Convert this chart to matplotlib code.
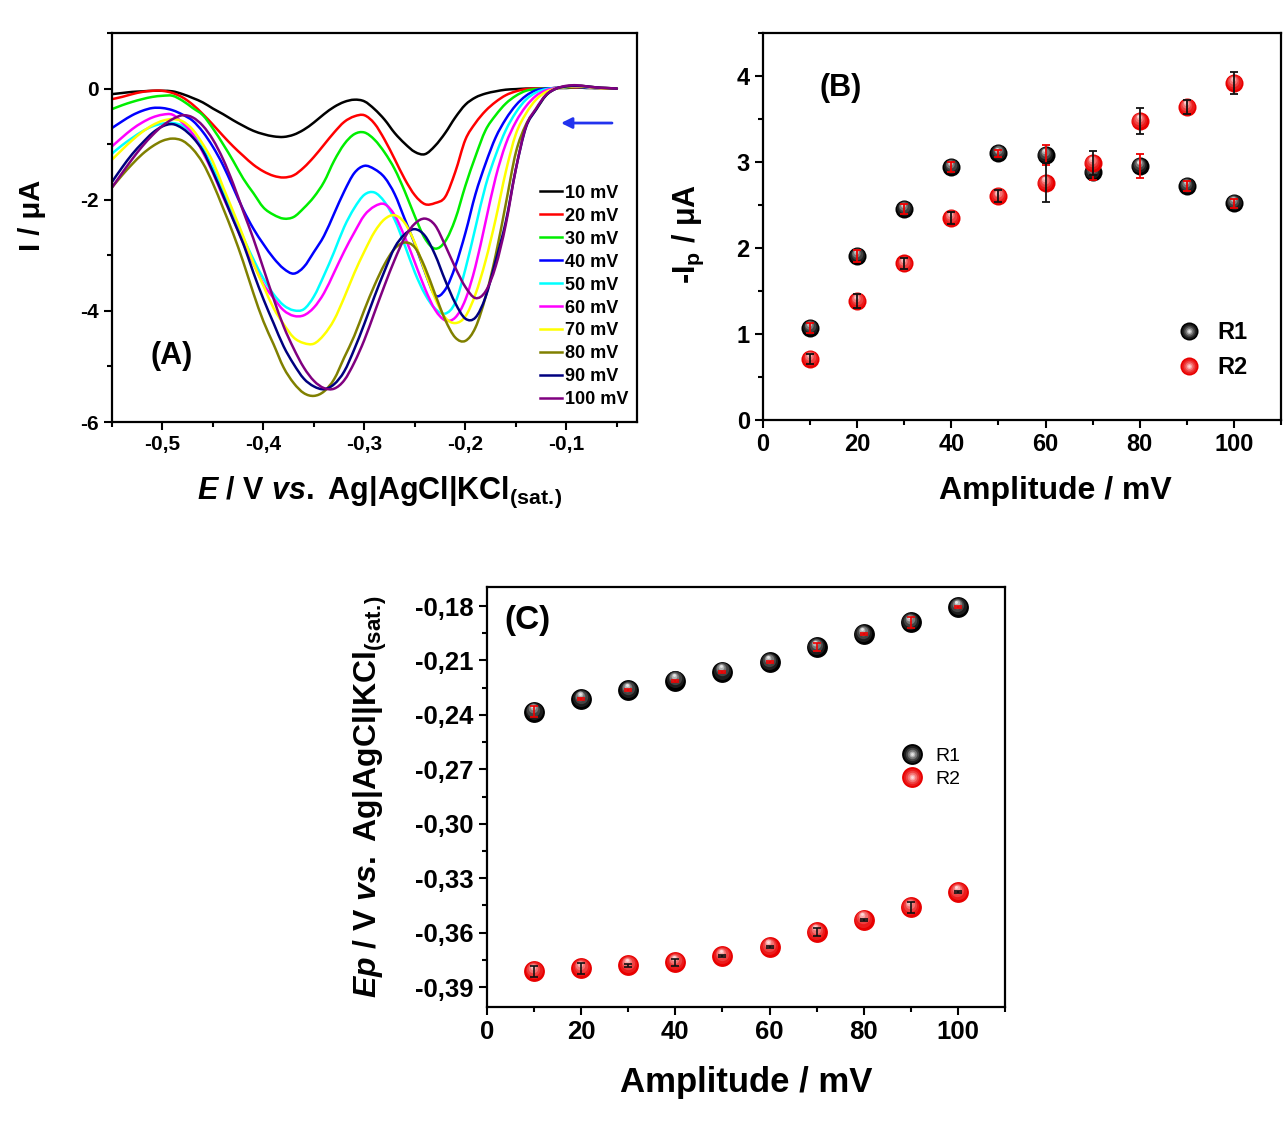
import numpy as np
import matplotlib
matplotlib.use('Agg')
import matplotlib.pyplot as plt
from matplotlib.ticker import MultipleLocator, FuncFormatter
from matplotlib.transforms import offset_copy
from matplotlib.legend_handler import HandlerTuple
from matplotlib.lines import Line2D
from matplotlib.path import Path
from matplotlib.patches import PathPatch

plt.rcParams['font.family'] = ['Liberation Sans', 'DejaVu Sans']
plt.rcParams['font.weight'] = 'bold'
plt.rcParams['axes.labelweight'] = 'bold'
plt.rcParams['mathtext.fontset'] = 'custom'
plt.rcParams['mathtext.rm'] = 'Liberation Sans:bold'
plt.rcParams['mathtext.it'] = 'Liberation Sans:italic:bold'
plt.rcParams['mathtext.bf'] = 'Liberation Sans:bold'

# ---------------- datos panel A (voltametrias) ----------------
E = [-0.55, -0.54, -0.53, -0.52, -0.51, -0.50, -0.49, -0.48, -0.47, -0.46,
     -0.45, -0.44, -0.43, -0.42, -0.41, -0.40, -0.39, -0.38, -0.37, -0.36,
     -0.35, -0.34, -0.33, -0.32, -0.31, -0.30, -0.29, -0.28, -0.27, -0.26,
     -0.25, -0.24, -0.23, -0.22, -0.21, -0.20, -0.19, -0.18, -0.17, -0.16,
     -0.15, -0.14, -0.13, -0.12, -0.11, -0.10, -0.09, -0.08, -0.07, -0.06, -0.05]

i_10 = [-0.10, -0.08, -0.06, -0.05, -0.04, -0.04, -0.05, -0.10, -0.17, -0.25,
        -0.36, -0.46, -0.57, -0.67, -0.76, -0.82, -0.86, -0.87, -0.83, -0.74,
        -0.61, -0.46, -0.33, -0.24, -0.20, -0.23, -0.37, -0.56, -0.80, -0.99,
        -1.14, -1.18, -1.03, -0.80, -0.52, -0.29, -0.16, -0.09, -0.05, -0.02,
        -0.01, 0.00, 0.00, 0.00, 0.01, 0.01, 0.02, 0.01, 0.01, 0.00, 0.00]
i_20 = [-0.19, -0.15, -0.10, -0.06, -0.04, -0.04, -0.08, -0.16, -0.29, -0.46,
        -0.65, -0.85, -1.04, -1.21, -1.37, -1.49, -1.57, -1.60, -1.56, -1.42,
        -1.23, -1.01, -0.79, -0.60, -0.50, -0.48, -0.63, -0.92, -1.27, -1.63,
        -1.92, -2.08, -2.06, -1.95, -1.50, -0.92, -0.62, -0.40, -0.24, -0.12,
        -0.05, -0.01, 0.00, 0.00, 0.01, 0.02, 0.02, 0.02, 0.01, 0.00, 0.00]
i_30 = [-0.37, -0.30, -0.24, -0.19, -0.15, -0.13, -0.13, -0.22, -0.35, -0.48,
        -0.72, -1.00, -1.30, -1.62, -1.88, -2.14, -2.27, -2.34, -2.31, -2.15,
        -1.95, -1.68, -1.30, -1.00, -0.82, -0.79, -0.92, -1.15, -1.45, -1.85,
        -2.30, -2.70, -2.88, -2.75, -2.35, -1.75, -1.22, -0.75, -0.48, -0.27,
        -0.13, -0.04, -0.01, 0.00, 0.01, 0.02, 0.03, 0.02, 0.01, 0.00, 0.00]
i_40 = [-0.71, -0.59, -0.48, -0.40, -0.35, -0.35, -0.39, -0.47, -0.58, -0.78,
        -1.05, -1.38, -1.78, -2.18, -2.52, -2.80, -3.05, -3.24, -3.33, -3.21,
        -2.94, -2.65, -2.25, -1.85, -1.52, -1.39, -1.45, -1.60, -1.90, -2.35,
        -2.80, -3.30, -3.72, -3.62, -3.20, -2.60, -1.90, -1.35, -0.88, -0.55,
        -0.30, -0.13, -0.03, 0.00, 0.01, 0.03, 0.03, 0.02, 0.01, 0.00, 0.00]
i_50 = [-1.17, -1.02, -0.89, -0.77, -0.68, -0.63, -0.62, -0.67, -0.82, -1.08,
        -1.43, -1.84, -2.25, -2.68, -3.07, -3.42, -3.70, -3.90, -3.99, -3.97,
        -3.74, -3.36, -2.94, -2.49, -2.15, -1.91, -1.87, -2.04, -2.36, -2.82,
        -3.31, -3.70, -3.96, -4.05, -3.85, -3.25, -2.50, -1.75, -1.20, -0.75,
        -0.43, -0.20, -0.07, -0.01, 0.01, 0.03, 0.04, 0.03, 0.01, 0.00, 0.00]
i_60 = [-1.04, -0.88, -0.73, -0.61, -0.52, -0.47, -0.47, -0.62, -0.82, -1.15,
        -1.52, -1.95, -2.35, -2.79, -3.15, -3.52, -3.77, -3.99, -4.09, -4.08,
        -3.94, -3.68, -3.31, -2.93, -2.59, -2.28, -2.12, -2.08, -2.28, -2.67,
        -3.13, -3.60, -3.98, -4.17, -4.12, -3.80, -3.20, -2.40, -1.60, -1.00,
        -0.60, -0.32, -0.13, -0.03, 0.01, 0.03, 0.04, 0.03, 0.01, 0.00, 0.00]
i_70 = [-1.28, -1.10, -0.93, -0.78, -0.66, -0.58, -0.55, -0.59, -0.74, -1.00,
        -1.32, -1.77, -2.21, -2.66, -3.14, -3.55, -3.95, -4.24, -4.48, -4.58,
        -4.59, -4.43, -4.16, -3.76, -3.32, -2.93, -2.58, -2.35, -2.28, -2.42,
        -2.78, -3.29, -3.77, -4.12, -4.22, -4.10, -3.70, -3.10, -2.35, -1.50,
        -0.82, -0.45, -0.20, -0.06, 0.00, 0.03, 0.04, 0.03, 0.01, 0.00, 0.00]
i_80 = [-1.78, -1.56, -1.36, -1.18, -1.04, -0.94, -0.90, -0.94, -1.09, -1.34,
        -1.71, -2.15, -2.61, -3.12, -3.68, -4.19, -4.60, -5.02, -5.30, -5.48,
        -5.53, -5.45, -5.23, -4.84, -4.45, -3.98, -3.54, -3.16, -2.88, -2.77,
        -2.86, -3.22, -3.70, -4.16, -4.48, -4.54, -4.30, -3.75, -3.00, -2.08,
        -1.15, -0.65, -0.38, -0.12, 0.00, 0.04, 0.05, 0.04, 0.02, 0.01, 0.00]
i_90 = [-1.68, -1.42, -1.18, -0.98, -0.80, -0.68, -0.64, -0.72, -0.88, -1.12,
        -1.50, -1.92, -2.36, -2.79, -3.31, -3.79, -4.22, -4.64, -4.96, -5.22,
        -5.36, -5.41, -5.32, -5.09, -4.69, -4.23, -3.74, -3.28, -2.86, -2.62,
        -2.53, -2.65, -2.99, -3.45, -3.86, -4.14, -4.12, -3.75, -3.10, -2.40,
        -1.45, -0.70, -0.38, -0.12, 0.00, 0.04, 0.05, 0.04, 0.02, 0.01, 0.00]
i_100 = [-1.78, -1.52, -1.27, -1.04, -0.84, -0.67, -0.55, -0.48, -0.52, -0.67,
         -0.92, -1.27, -1.71, -2.21, -2.70, -3.24, -3.78, -4.28, -4.68, -5.02,
         -5.26, -5.39, -5.40, -5.25, -4.93, -4.52, -4.03, -3.54, -3.08, -2.68,
         -2.43, -2.34, -2.46, -2.82, -3.22, -3.57, -3.77, -3.65, -3.20, -2.45,
         -1.45, -0.68, -0.36, -0.11, 0.00, 0.05, 0.06, 0.04, 0.02, 0.01, 0.00]

curvas = [i_10, i_20, i_30, i_40, i_50, i_60, i_70, i_80, i_90, i_100]
etiquetas = ['10 mV', '20 mV', '30 mV', '40 mV', '50 mV',
             '60 mV', '70 mV', '80 mV', '90 mV', '100 mV']
colores = ['#000000', '#ff0000', '#00ee00', '#0000ff', '#00ffff',
           '#ff00ff', '#ffff00', '#808000', '#000080', '#800080']

# ---------------- datos panel B y C ----------------
amplitud = [10, 20, 30, 40, 50, 60, 70, 80, 90, 100]

ip_R1 = [1.07, 1.91, 2.45, 2.94, 3.10, 3.08, 2.88, 2.95, 2.72, 2.52]
ip_R1_err = [0.06, 0.07, 0.06, 0.06, 0.04, 0.12, 0.09, 0.14, 0.06, 0.05]
ip_R2 = [0.71, 1.38, 1.82, 2.35, 2.60, 2.76, 2.99, 3.48, 3.64, 3.92]
ip_R2_err = [0.06, 0.08, 0.06, 0.07, 0.07, 0.23, 0.14, 0.15, 0.08, 0.13]

ep_R1 = [-0.2383, -0.2312, -0.2263, -0.2211, -0.2162, -0.2109, -0.2026, -0.1956, -0.1890, -0.1807]
ep_R1_err = [0.003, 0.0005, 0.0005, 0.0005, 0.0005, 0.0005, 0.002, 0.0005, 0.003, 0.0005]
ep_R2 = [-0.3812, -0.3796, -0.3780, -0.3763, -0.3730, -0.3679, -0.3596, -0.3529, -0.3461, -0.3377]
ep_R2_err = [0.003, 0.003, 0.0008, 0.002, 0.0005, 0.0005, 0.002, 0.0005, 0.003, 0.0005]

W, H = 1283, 1131
fig = plt.figure(figsize=(W / 100, H / 100), dpi=100)

# capas del efecto "esfera": (fraccion de tamano, mezcla hacia el brillo)
CAPAS = [(1.0, 0.0), (0.82, 0.12), (0.64, 0.28), (0.46, 0.5), (0.28, 0.75), (0.14, 0.95)]


def estilo_ejes(ax, size):
    for s in ax.spines.values():
        s.set_linewidth(1.6)
    ax.tick_params(which='both', direction='out', width=1.5, labelsize=size,
                   top=False, right=False)
    ax.tick_params(which='major', length=6)
    ax.tick_params(which='minor', length=3.5)


def mezcla(c1, c2, f):
    a = np.array(matplotlib.colors.to_rgb(c1))
    b = np.array(matplotlib.colors.to_rgb(c2))
    return tuple(a + (b - a) * f)


def esfera(ax, x, y, base, brillo, ms, z):
    for frac, f in CAPAS:
        dy = (1 - frac) * ms * 0.3
        t = offset_copy(ax.transData, fig=fig, x=-dy * 0.3, y=dy, units='points')
        ax.plot(x, y, 'o', ms=ms * frac, color=mezcla(base, brillo, f), mec='none',
                transform=t, zorder=z)


def leyenda_esfera(base, brillo, ms):
    return tuple(Line2D([], [], ls='none', marker='o', ms=ms * frac,
                        color=mezcla(base, brillo, f), mec='none')
                 for frac, f in CAPAS)


def curva_suave(ax, x, y, color, lw):
    # trazo suave (Bezier) que pasa por los puntos leidos
    n = len(x)
    verts = [(x[0], y[0])]
    codes = [Path.MOVETO]
    for k in range(n - 1):
        x0, y0 = (x[k - 1], y[k - 1]) if k > 0 else (x[k], y[k])
        x3, y3 = (x[k + 2], y[k + 2]) if k + 2 < n else (x[k + 1], y[k + 1])
        verts.append((x[k] + (x[k + 1] - x0) / 6, y[k] + (y[k + 1] - y0) / 6))
        verts.append((x[k + 1] - (x3 - x[k]) / 6, y[k + 1] - (y3 - y[k]) / 6))
        verts.append((x[k + 1], y[k + 1]))
        codes += [Path.CURVE4] * 3
    ax.add_patch(PathPatch(Path(verts, codes), fill=False, edgecolor=color,
                           lw=lw, joinstyle='round', capstyle='round'))


coma1 = FuncFormatter(lambda v, p: f'{v:.1f}'.replace('.', ','))
coma2 = FuncFormatter(lambda v, p: f'{v:.2f}'.replace('.', ','))
entero = FuncFormatter(lambda v, p: f'{v:.0f}')

etiqueta_ref = r'Ag|AgCl|KCl$_{\mathrm{(sat.\!)}}$'

# ================= Panel A =================
axA = fig.add_axes([112 / W, 1 - 422 / H, (637 - 112) / W, (422 - 33) / H])
for cur, col in zip(curvas, colores):
    curva_suave(axA, E, cur, col, 1.8)
axA.set_xlim(-0.55, -0.03)
axA.set_ylim(-6, 1)
axA.set_xticks([-0.5, -0.4, -0.3, -0.2, -0.1])
axA.xaxis.set_minor_locator(MultipleLocator(0.05))
axA.set_yticks([-6, -4, -2, 0])
axA.yaxis.set_minor_locator(MultipleLocator(1))
axA.xaxis.set_major_formatter(coma1)
axA.yaxis.set_major_formatter(entero)
estilo_ejes(axA, 15)
axA.set_ylabel('I / μA', fontsize=21)
axA.yaxis.set_label_coords(-0.125, 0.53)
axA.set_xlabel(r'$\mathit{E}$ / V $\mathit{vs.}$ ' + etiqueta_ref, fontsize=22)
axA.xaxis.set_label_coords(0.51, -0.135)
axA.text(0.114, 0.17, '(A)', transform=axA.transAxes, fontsize=22,
         ha='center', va='center')
axA.annotate('', xy=(-0.108, -0.62), xytext=(-0.052, -0.62),
             arrowprops=dict(arrowstyle='-|>', color='#2233ee', lw=2, mutation_scale=16))
proxies = [Line2D([], [], color=col, lw=1.8) for col in colores]
axA.legend(proxies, etiquetas, loc='upper left', bbox_to_anchor=(0.815, 0.61),
           frameon=False, fontsize=13, handlelength=1.25, handletextpad=0.12,
           labelspacing=0.33, borderpad=0, borderaxespad=0)

# ================= Panel B =================
axB = fig.add_axes([763 / W, 1 - 420 / H, (1281 - 763) / W, (420 - 33) / H])
esfera(axB, amplitud, ip_R1, '#000000', '#f0f0f0', 13, 3)
axB.errorbar(amplitud, ip_R1, yerr=ip_R1_err, fmt='none', ecolor='#ee0000',
             elinewidth=1.3, capsize=3, capthick=1.3, zorder=4)
esfera(axB, amplitud, ip_R2, '#e80000', '#ffe4e4', 13, 5)
axB.errorbar(amplitud, ip_R2, yerr=ip_R2_err, fmt='none', ecolor='#111111',
             elinewidth=1.3, capsize=3, capthick=1.3, zorder=6)
axB.set_xlim(0, 110)
axB.set_ylim(0, 4.5)
axB.set_xticks([0, 20, 40, 60, 80, 100])
axB.xaxis.set_minor_locator(MultipleLocator(10))
axB.set_yticks([0, 1, 2, 3, 4])
axB.yaxis.set_minor_locator(MultipleLocator(0.5))
axB.xaxis.set_major_formatter(entero)
axB.yaxis.set_major_formatter(entero)
estilo_ejes(axB, 17)
axB.set_ylabel(r'-I$_{\mathrm{p}}$ / μA', fontsize=22)
axB.yaxis.set_label_coords(-0.11, 0.48)
axB.set_xlabel('Amplitude / mV', fontsize=23)
axB.xaxis.set_label_coords(0.565, -0.145)
axB.text(0.149, 0.858, '(B)', transform=axB.transAxes, fontsize=22,
         ha='center', va='center')
hmap = {tuple: HandlerTuple(ndivide=1, pad=0)}
axB.legend([leyenda_esfera('#000000', '#f0f0f0', 13),
            leyenda_esfera('#e80000', '#ffe4e4', 13)], ['R1', 'R2'],
           handler_map=hmap, loc='center', bbox_to_anchor=(0.865, 0.18),
           frameon=False, prop={'size': 17, 'weight': 'bold'}, handlelength=1.2,
           handletextpad=0.6, labelspacing=0.5)

# ================= Panel C =================
axC = fig.add_axes([487 / W, 1 - 1007 / H, 518 / W, 420 / H])
esfera(axC, amplitud, ep_R1, '#000000', '#f0f0f0', 15, 3)
axC.errorbar(amplitud, ep_R1, yerr=ep_R1_err, fmt='none', ecolor='#ee0000',
             elinewidth=1.2, capsize=3, capthick=1.2, zorder=4)
esfera(axC, amplitud, ep_R2, '#e80000', '#ffe4e4', 15, 5)
axC.errorbar(amplitud, ep_R2, yerr=ep_R2_err, fmt='none', ecolor='#111111',
             elinewidth=1.2, capsize=3, capthick=1.2, zorder=6)
axC.set_xlim(0, 110)
axC.set_ylim(-0.401, -0.1695)
axC.set_xticks([0, 20, 40, 60, 80, 100])
axC.xaxis.set_minor_locator(MultipleLocator(10))
axC.set_yticks([-0.39, -0.36, -0.33, -0.30, -0.27, -0.24, -0.21, -0.18])
axC.yaxis.set_minor_locator(MultipleLocator(0.015))
axC.xaxis.set_major_formatter(entero)
axC.yaxis.set_major_formatter(coma2)
estilo_ejes(axC, 18.5)
axC.set_ylabel(r'$\mathit{Ep}$ / V $\mathit{vs.}$ ' + etiqueta_ref, fontsize=23)
axC.yaxis.set_label_coords(-0.19, 0.5)
axC.set_xlabel('Amplitude / mV', fontsize=25)
axC.xaxis.set_label_coords(0.5, -0.14)
axC.text(0.079, 0.921, '(C)', transform=axC.transAxes, fontsize=24,
         ha='center', va='center')
axC.legend([leyenda_esfera('#000000', '#f0f0f0', 15),
            leyenda_esfera('#e80000', '#ffe4e4', 15)], ['R1', 'R2'],
           handler_map=hmap, loc='center', bbox_to_anchor=(0.855, 0.57),
           frameon=False, prop={'size': 14, 'weight': 'normal'}, handlelength=1.2,
           handletextpad=0.6, labelspacing=0.3)

plt.savefig('out.png', dpi=100)
